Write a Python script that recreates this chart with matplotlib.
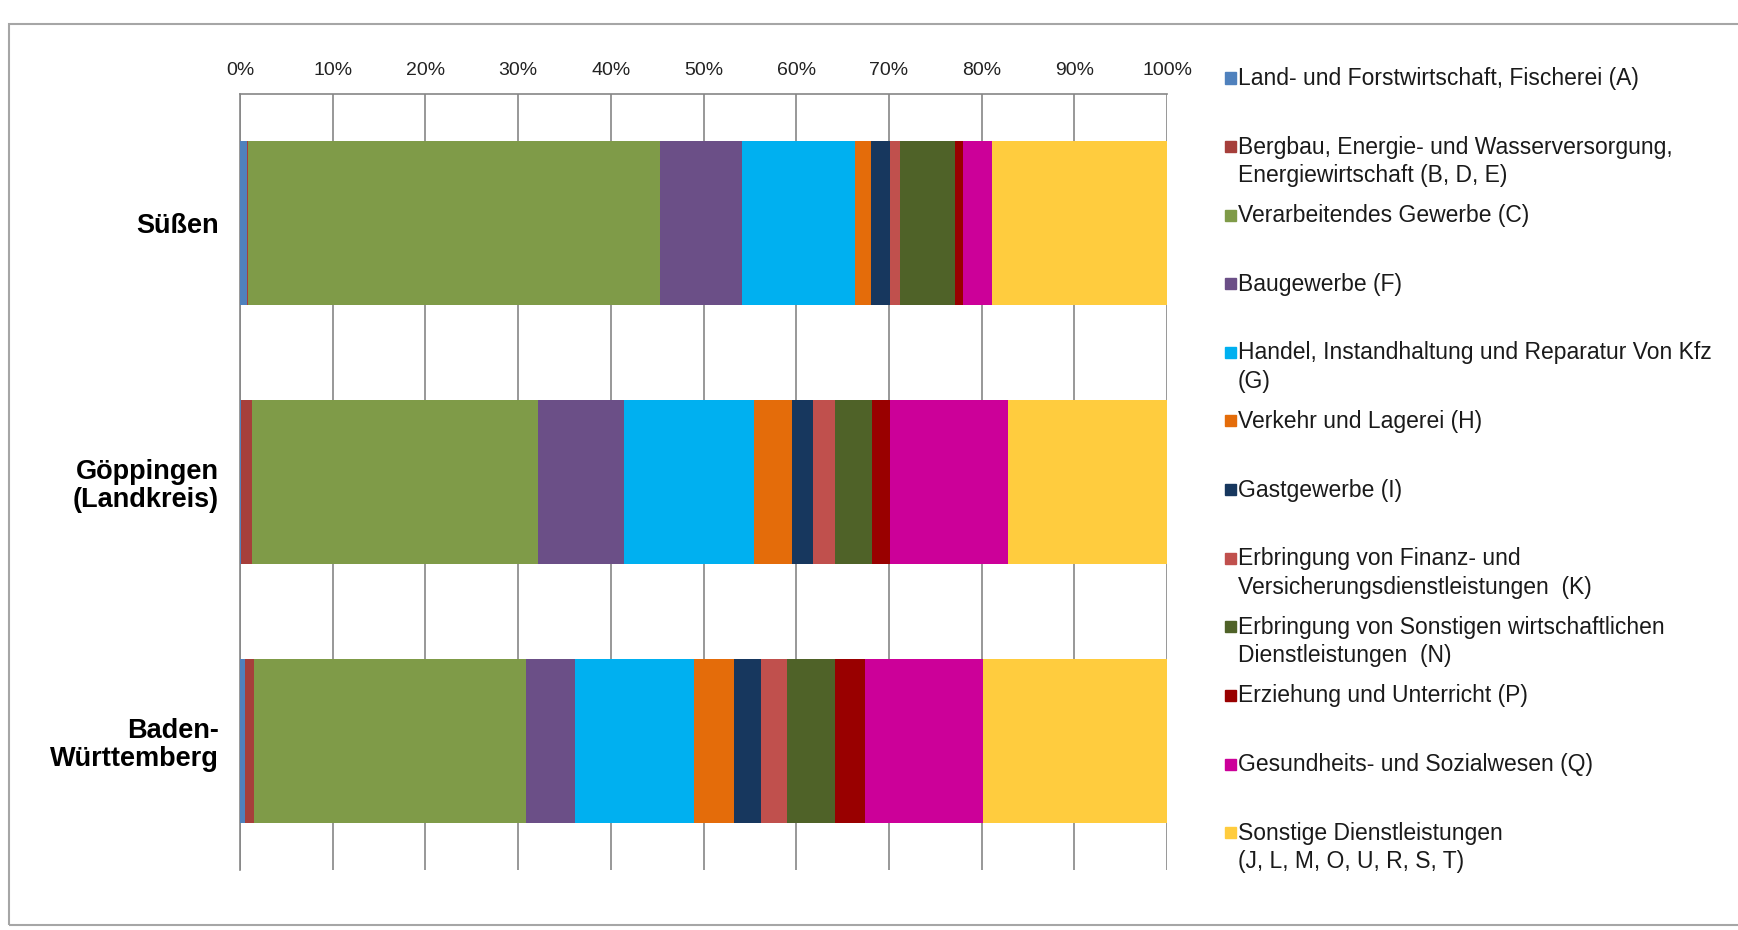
import matplotlib
matplotlib.use("Agg")
import matplotlib.pyplot as plt
from matplotlib.patches import Rectangle
from matplotlib.ticker import PercentFormatter
import numpy as np

plt.rcParams['font.family'] = ['Liberation Sans', 'DejaVu Sans']

# Gebiete (von oben nach unten)
regions = ['Süßen', 'Göppingen\n(Landkreis)', 'Baden-\nWürttemberg']

# Wirtschaftszweige (Legende)
sectors = [
    'Land- und Forstwirtschaft, Fischerei (A)',
    'Bergbau, Energie- und Wasserversorgung,\nEnergiewirtschaft (B, D, E)',
    'Verarbeitendes Gewerbe (C)',
    'Baugewerbe (F)',
    'Handel, Instandhaltung und Reparatur Von Kfz\n(G)',
    'Verkehr und Lagerei (H)',
    'Gastgewerbe (I)',
    'Erbringung von Finanz- und\nVersicherungsdienstleistungen  (K)',
    'Erbringung von Sonstigen wirtschaftlichen\nDienstleistungen  (N)',
    'Erziehung und Unterricht (P)',
    'Gesundheits- und Sozialwesen (Q)',
    'Sonstige Dienstleistungen\n(J, L, M, O, U, R, S, T)',
]

colors = ['#4F81BD', '#A63F3B', '#7F9B48', '#6B4F87', '#00B0F0', '#E46C0A',
          '#17375E', '#C0504D', '#4F6228', '#990000', '#CC0099', '#FFCC3E']

# Anteile in %
share_suessen    = [0.8, 0.1, 44.4, 8.8, 12.2, 1.8, 2.0, 1.1, 5.9, 0.9, 3.1, 18.9]
share_goeppingen = [0.1, 1.2, 30.8, 9.3, 14.0, 4.2, 2.2, 2.4, 4.0, 1.9, 12.8, 17.1]
share_bw         = [0.5, 1.0, 29.4, 5.2, 12.9, 4.3, 2.9, 2.8, 5.2, 3.2, 12.8, 19.8]

shares = np.array([share_suessen, share_goeppingen, share_bw])
shares = shares / shares.sum(axis=1, keepdims=True)

W, H = 1738, 930
fig = plt.figure(figsize=(W / 100, H / 100), dpi=100)
fig.patch.set_facecolor('white')

# Rahmen
fig.patches.append(Rectangle((9 / W, 5 / H), 1.2, (925 - 24) / H,
                             transform=fig.transFigure, fill=False,
                             edgecolor='#A6A6A6', lw=1.5))

ax = fig.add_axes([240 / W, (H - 870) / H, 927 / W, 776 / H])
y = np.arange(len(regions))
left = np.zeros(len(regions))
for j in range(len(sectors)):
    ax.barh(y, shares[:, j], left=left, height=0.634, color=colors[j],
            edgecolor='none', zorder=3)
    left += shares[:, j]

ax.set_xlim(0, 1)
ax.set_ylim(2.5, -0.5)
ax.set_xticks(np.linspace(0, 1, 11))
ax.xaxis.set_major_formatter(PercentFormatter(1.0, decimals=0))
ax.xaxis.tick_top()
ax.tick_params(axis='x', length=0, pad=11, labelsize=14, labelcolor='#222222')
ax.set_yticks(y)
ax.set_yticklabels(regions, fontsize=19.5, fontweight='bold', ha='right',
                   linespacing=1.12)
ax.tick_params(axis='y', length=0, pad=15)
ax.grid(axis='x', color='#868686', lw=1.2, zorder=0)
ax.set_axisbelow(True)
for s in ['right', 'bottom']:
    ax.spines[s].set_visible(False)
for s in ['left', 'top']:
    ax.spines[s].set_color('#868686')
    ax.spines[s].set_linewidth(1.2)

# Legende (manuell, Excel-artig gleichmäßige Abstände)
for i, (lab, c) in enumerate(zip(sectors, colors)):
    yc = 80 + 68.6 * i
    fig.patches.append(Rectangle((1225 / W, 1 - (yc + 3.5) / H), 11 / W, 11 / H,
                                 transform=fig.transFigure, color=c))
    fig.text(1238 / W, 1 - (yc - 13) / H, lab, fontsize=16.5, va='top',
             ha='left', color='#1A1A1A', linespacing=1.3)

fig.savefig('out.png', dpi=100)
